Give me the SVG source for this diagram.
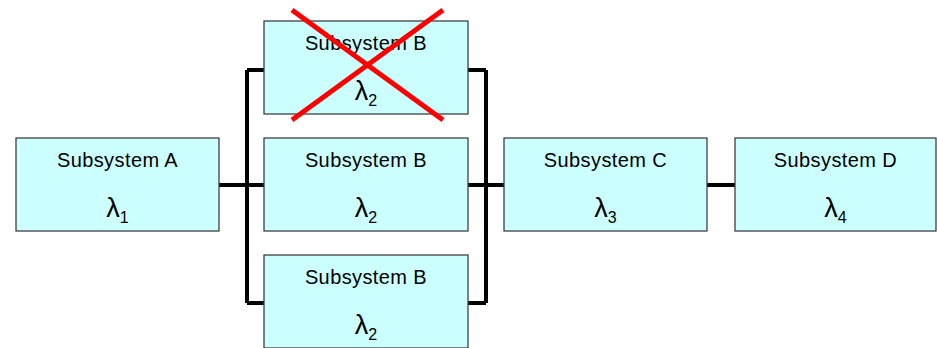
<svg xmlns="http://www.w3.org/2000/svg" width="937" height="348" viewBox="0 0 937 348">
<style>
.box{fill:#ccffff;stroke:#404040;stroke-width:1.3}
.t{font-family:"Liberation Sans",Arial,sans-serif;font-size:20px;letter-spacing:0.4px;fill:#000;text-anchor:middle}
.l{font-family:"Liberation Sans",Arial,sans-serif;font-size:27px;fill:#000;text-anchor:middle}
.sub{font-size:16px}
.w{fill:none;stroke:#000;stroke-width:4;stroke-linejoin:miter}
.x{stroke:#ff0000;stroke-width:5;stroke-linecap:butt}
</style>
<g id="connectors">
<path class="w" d="M219,185 H264 M247,303 V70 M247,70 H264 M247,303 H264"/>
<path class="w" d="M468,185 H504 M486,303 V70 M468,70 H486 M468,303 H486"/>
<path class="w" d="M707,185 H735"/>
</g>
<g id="nodeA">
<rect class="box" x="16" y="138" width="203" height="93"/>
<text class="t" x="117.5" y="167">Subsystem A</text>
<text class="l" x="117.5" y="217">λ<tspan class="sub" dy="6">1</tspan></text>
</g>
<g id="nodeB1">
<rect class="box" x="264" y="21" width="204" height="93"/>
<text class="t" x="366" y="50">Subsystem B</text>
<text class="l" x="366" y="100">λ<tspan class="sub" dy="6">2</tspan></text>
</g>
<g id="nodeB2">
<rect class="box" x="264" y="138" width="204" height="93"/>
<text class="t" x="366" y="167">Subsystem B</text>
<text class="l" x="366" y="217">λ<tspan class="sub" dy="6">2</tspan></text>
</g>
<g id="nodeB3">
<rect class="box" x="264" y="255" width="204" height="93"/>
<text class="t" x="366" y="284">Subsystem B</text>
<text class="l" x="366" y="334">λ<tspan class="sub" dy="6">2</tspan></text>
</g>
<g id="nodeC">
<rect class="box" x="504" y="138" width="203" height="93"/>
<text class="t" x="605.5" y="167">Subsystem C</text>
<text class="l" x="605.5" y="217">λ<tspan class="sub" dy="6">3</tspan></text>
</g>
<g id="nodeD">
<rect class="box" x="735" y="138" width="201" height="93"/>
<text class="t" x="835.5" y="167">Subsystem D</text>
<text class="l" x="835.5" y="217">λ<tspan class="sub" dy="6">4</tspan></text>
</g>
<g id="cross">
<line class="x" x1="292" y1="10" x2="443" y2="120"/>
<line class="x" x1="443" y1="10" x2="292" y2="120"/>
</g>
</svg>
